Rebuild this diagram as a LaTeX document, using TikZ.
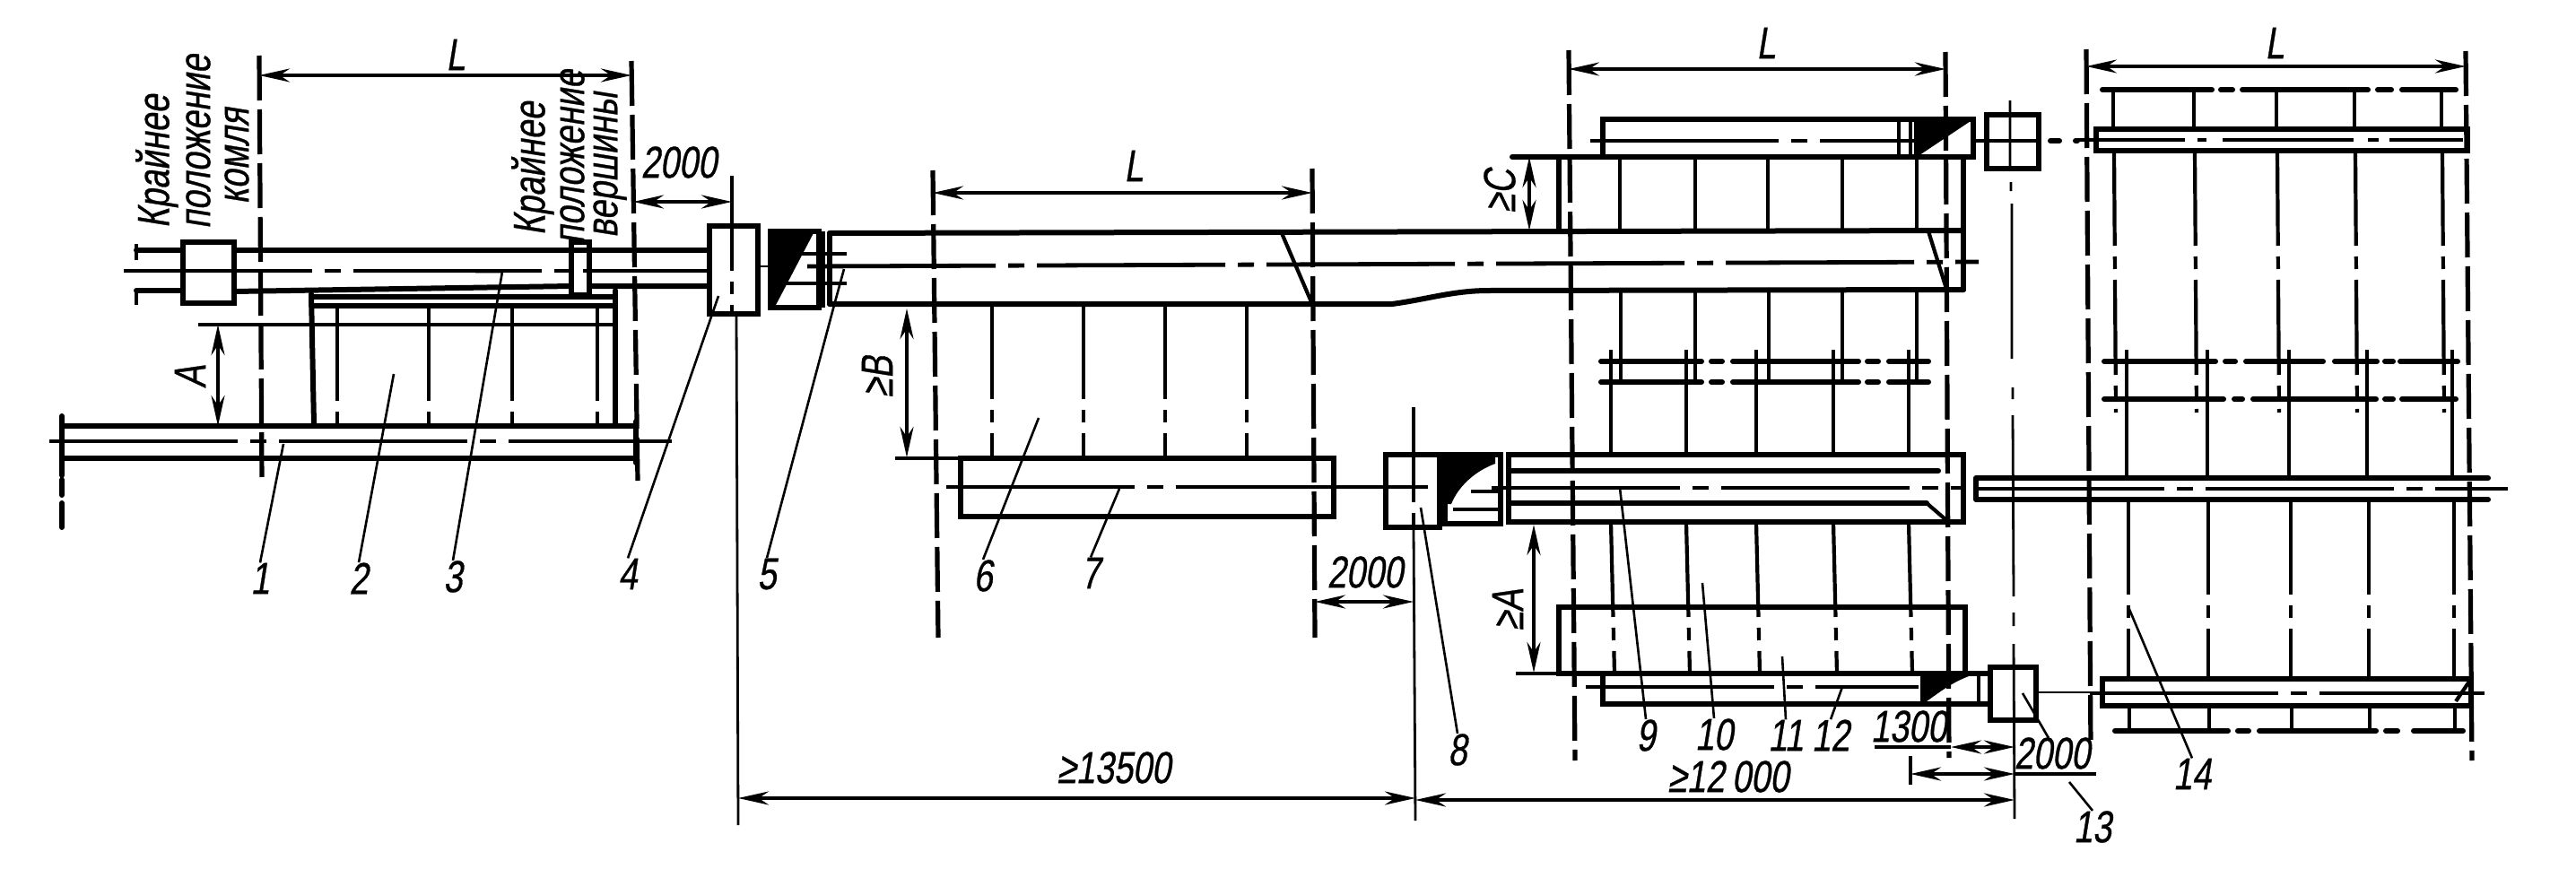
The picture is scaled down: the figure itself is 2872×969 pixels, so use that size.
\documentclass[tikz,border=0pt]{standalone}
\usepackage{fontspec}
\usetikzlibrary{arrows.meta}
\newfontfamily\dfont[FakeStretch=0.76,FakeSlant=0.16,FakeBold=0.6]{Liberation Sans}
\tikzset{
 x=.5pt,y=-.5pt,
 thick line/.style={line width=3pt,line cap=round},
 mid line/.style={line width=2.1pt},
 thin line/.style={line width=1.4pt},
 ext line/.style={line width=2.6pt,dash pattern=on 25pt off 5pt},
 tie line/.style={line width=2.1pt,dash pattern=on 53pt off 6pt on 7pt off 6pt},
 axis line/.style={line width=2.4pt,dash pattern=on 105pt off 7pt on 9pt off 7pt},
 dim line/.style={line width=1.9pt,{Stealth[length=17pt,width=7.5pt]}-{Stealth[length=17pt,width=7.5pt]}},
 leader/.style={line width=1.3pt},
 lab/.style={inner sep=0pt,font=\dfont\fontsize{25}{25}\selectfont},
 vlab/.style={lab,rotate=90},
}
\begin{document}
\begin{tikzpicture}
\useasboundingbox (0,0) rectangle (2872,969);
\fill[white] (0,0) rectangle (2872,969);

% ---------- left tower crane track
\draw[ext line] (289,62) -- (292,536);
\draw[ext line] (704,68) -- (711,536);
\draw[dim line] (289,84) -- (704,84);
\node[lab] (tL1) at (508,61) {L};
\draw[mid line] (152,272) -- (152,290) (152,322) -- (152,340);
\draw[thick line] (152,279) -- (204,279) (152,324) -- (204,324);
\draw[thick line] (261,279) -- (789,279);
\draw[thick line] (261,325) -- (637,319) (657,319) -- (789,319);
\draw[axis line] (138,302) -- (791,302);
\draw[thick line] (204,270) rectangle (261,338);
\draw[thick line] (637,270) rectangle (657,329);
\draw[thick line] (791,252) rectangle (845,350);
\draw[tie line] (816,196) -- (816,350);
\draw[thin line] (816,196) -- (816,252);
\draw[thin line] (821,350) -- (823,920);
\draw[thick line] (347,331) -- (686,331);
\draw[thick line] (347,341) -- (684,341);
\draw[mid line] (221,362) -- (686,362);
\draw[thick line] (347,328) -- (350,473);
\draw[thick line] (686,324) -- (686,473);
\foreach \xa in {376,478,571,666}{\draw[tie line] (\xa,341) -- (\xa,473);}
\draw[thick line] (69,475) -- (709,475) (69,511) -- (709,511);
\draw[axis line] (55,492) -- (703,492);
\draw[mid line] (703,492) -- (749,492);
\draw[thick line,dash pattern=on 33pt off 2.5pt on 8.5pt off 4.5pt on 13.5pt off 40pt] (69,464) -- (69,589);
\draw[thick line] (709,470) -- (709,516);
\draw[dim line] (243,362) -- (243,475);
\node[vlab] (tA1) at (212,420) {A};
\node[vlab] (k1) at (175,180) {Крайнее};
\node[vlab] (k2) at (221,158) {положение};
\node[vlab] (k3) at (264,174) {комля};
\node[vlab] (k4) at (594,188) {Крайнее};
\node[vlab] (k5) at (638,175) {положение};
\node[vlab] (k6) at (680,184) {вершины};
\node[lab] (t2000a) at (757,181) {2000};
\draw[dim line] (706,225) -- (816,225);

% ---------- labels
\node[lab] (n1) at (290,645) {1};
\node[lab] (n2) at (400,645) {2};
\node[lab] (n3) at (505,643) {3};
\node[lab] (n4) at (700,640) {4};
\node[lab] (n5) at (855,640) {5};
\node[lab] (n6) at (1096,642) {6};
\node[lab] (n7) at (1216,639) {7};
\node[lab] (n8) at (1625,836) {8};
\node[lab] (n9) at (1835,820) {9};
\node[lab] (n10) at (1911,819) {10};
\node[lab] (n11) at (1991,820) {11};
\node[lab] (n12) at (2041,820) {12};
\node[lab] (n13) at (2333,922) {13};
\node[lab] (n14) at (2444,863) {14};
\draw[leader] (316,495) -- (n1.north);
\draw[leader] (439,417) -- (n2.north);
\draw[leader] (530,303) -- (560,303) -- (n3.north);
\draw[leader] (801,330) -- (n4.north);
\draw[leader] (941,300) -- (929,344) -- (n5.north);
\draw[leader] (1158,466) -- (n6.north);
\draw[leader] (1248,545) -- (n7.north);
\draw[leader] (1584,566) -- (n8.north);
\draw[leader] (1806,544) -- (n9.north);
\draw[leader] (1898,650) -- (n10.north);
\draw[leader] (1987,732) -- (n11.north);
\draw[leader] (2054,766) -- (n12.north);
\draw[leader] (2255,773) -- (2284,823);
\draw[leader] (2307,872) -- (n13.north);
\draw[leader] (2373,677) -- (n14.north);

% ---------- wedge 1 and main conveyor
\draw[thick line] (859,258) rectangle (913,343);
\fill[black] (859,258) -- (908,258) -- (864,342) -- (859,342) -- cycle;
\draw[mid line] (882,283) -- (944,283) (872,316) -- (944,316);
\draw[mid line] (918,258) -- (918,343);
\draw[thin line] (845,297) -- (859,297);
\draw[thick line] (925,260) -- (2189,257);
\draw[thick line] (925,260) -- (925,339);
\draw[thick line] (925,339) -- (1552,339) .. controls (1590,334) and (1620,324) .. (1660,324) -- (2189,323);
\draw[thick line] (2189,177) -- (2189,323);
\draw[axis line] (900,297) -- (2206,292);
\draw[mid line] (1429,260) -- (1463,339);
\draw[mid line] (2150,258) -- (2170,322);

% ---------- section L 2
\draw[ext line] (1040,190) -- (1046,711);
\draw[ext line] (1463,188) -- (1466,711);
\draw[dim line] (1040,215) -- (1463,215);
\node[lab] (tL2) at (1264,185) {L};
\foreach \xa in {1106,1208,1299,1390}{\draw[tie line] (\xa,339) -- (\xa,511);}
\draw[dim line] (1011,344) -- (1011,510);
\node[vlab] (tB) at (978,420) {≥B};
\draw[mid line] (998,511) -- (1071,511);
\draw[thick line] (1071,511) rectangle (1487,576);
\draw[axis line] (1055,543) -- (1487,543);
\draw[mid line] (1487,543) -- (1545,543);

% ---------- box 8, wedge 2
\draw[thick line] (1545,507) rectangle (1605,588);
\draw[tie line] (1576,454) -- (1576,590);
\draw[thin line] (1576,590) -- (1578,915);
\draw[mid line] (1545,543) -- (1592,543);
\draw[dim line] (1466,671) -- (1576,671);
\node[lab] (t2000b) at (1522,638) {2000};
\draw[thick line] (1611,507) rectangle (1673,584);
\fill[black] (1611,507) -- (1667,507) -- (1667,517) .. controls (1645,525) and (1626,542) .. (1618,562) -- (1611,562) -- cycle;
\draw[mid line] (1640,548) -- (1673,548) (1620,568) -- (1673,568);
\draw[dim line] (823,890) -- (1578,890);
\node[lab] (t13500) at (1242,856) {≥13500};
\draw[dim line] (1578,892) -- (2246,892);
\node[lab] (t12000) at (1927,866) {≥12\,000};
\draw[thin line] (2241,112) -- (2241,190) (2242,203) -- (2242,213) (2243,227) -- (2243,400) (2244,432) -- (2244,445) (2244,463) -- (2245,665) (2245,683) -- (2245,698) (2245,718) -- (2246,913);

% ---------- block of upper right conveyors
\draw[ext line] (1749,56) -- (1756,848);
\draw[ext line] (2169,58) -- (2173,845);
\draw[dim line] (1749,77) -- (2169,77);
\node[lab] (tL3) at (1969,48) {L};
\draw[thick line] (1787,133) rectangle (2200,175);
\draw[thick line] (1686,175) -- (1787,175);
\draw[axis line] (1773,157) -- (2140,157);
\draw[mid line] (2117,133) -- (2117,175) (2130,133) -- (2130,175);
\fill[black] (2134,135) -- (2197,135) -- (2140,173) -- (2134,173) -- cycle;
\draw[mid line] (2200,157) -- (2215,157);
\draw[thick line] (2215,128) rectangle (2273,188);
\draw[mid line] (2215,157) -- (2273,157);
\draw[thick line,dash pattern=on 5pt off 9pt on 5pt off 40pt] (2286,157) -- (2316,157);
\draw[thick line] (1738,175) -- (1738,257);
\foreach \xa in {1806,1890,1971,2054,2137}{\draw[tie line] (\xa,175) -- (\xa,257);}
\foreach \xa in {1807,1890,1972,2054,2137}{\draw[tie line] (\xa,323) -- (\xa,440);}
\foreach \xa in {1796,1880,1958,2044,2128}{
  \draw[mid line] (\xa,390) -- (\xa,441);
  \draw[tie line] (\xa,441) -- (\xa,507);
  \draw[tie line] (\xa,582) -- (\xa+4,751);
}
\draw[dim line] (1705,175) -- (1705,257);
\node[vlab] (tC) at (1672,213) {≥C};
\draw[thick line,dash pattern=on 56pt off 5.5pt on 6pt off 6pt on 70pt off 5pt on 6pt off 6pt on 40pt off 50pt] (1785,403) -- (2150,403);
\draw[thick line,dash pattern=on 56pt off 5.5pt on 6pt off 6pt on 70pt off 5pt on 6pt off 6pt on 40pt off 50pt] (1785,426) -- (2150,426);

% ---------- conveyor 9
\draw[thick line] (1682,507) rectangle (2189,582);
\draw[thick line] (1682,525) -- (2161,525);
\draw[thick line] (1682,561) -- (2148,561);
\draw[mid line] (2148,561) -- (2170,580);
\draw[axis line] (1663,544) -- (2190,544);
\draw[dim line] (1710,585) -- (1710,750);
\node[vlab] (tA2) at (1681,680) {≥A};
\draw[thick line] (1738,677) rectangle (2191,751);
\draw[mid line] (1690,751) -- (1738,751);

% ---------- conveyor 12
\draw[thick line] (1787,751) rectangle (2219,785);
\draw[axis line] (1768,766) -- (2139,766);
\fill[black] (2141,751) -- (2204,751) .. controls (2180,758) and (2165,770) .. (2148,782) -- (2141,782) -- cycle;
\draw[mid line] (2206,751) -- (2206,785);
\draw[thick line] (2219,744) rectangle (2270,803);
\draw[thin line] (2270,772) -- (2342,772);
\draw[dim line] (2175,833) -- (2246,833);
\draw[mid line] (2090,833) -- (2175,833);
\node[lab] (t1300) at (2128,810) {1300};
\draw[mid line] (2130,843) -- (2130,875);
\draw[dim line] (2130,863) -- (2246,863);
\draw[mid line] (2246,863) -- (2337,863);
\node[lab] (t2000c) at (2288,840) {2000};

% ---------- right block
\draw[ext line] (2326,55) -- (2331,835);
\draw[ext line] (2749,57) -- (2756,848);
\draw[dim line] (2326,74) -- (2749,74);
\node[lab] (tL4) at (2536,48) {L};
\draw[thick line,dash pattern=on 61pt off 5pt on 6.5pt off 5.5pt on 70pt off 5.5pt on 7.5pt off 6pt on 30pt off 40pt] (2344,100) -- (2738,100);
\draw[thick line] (2337,144) rectangle (2751,168);
\draw[axis line,dash pattern=on 60pt off 7pt on 5pt off 9pt on 73pt off 8pt on 6pt off 6pt on 41pt off 20pt] (2316,156) -- (2768,156);
\foreach \xa in {2356,2446,2538,2625,2722}{
  \draw[mid line] (\xa,100) -- (\xa,144);
  \draw[tie line] (\xa+1,168) -- (\xa+3,460);
}
\foreach \xa in {2371,2461,2552,2639,2734}{
  \draw[mid line] (\xa,390) -- (\xa,460);
  \draw[tie line] (\xa,460) -- (\xa,533);
}
\draw[thick line,dash pattern=on 62pt off 5.5pt on 5.5pt off 6pt on 43pt off 6.5pt on 23.5pt off 4.5pt on 4.5pt off 4pt on 32pt off 40pt] (2346,403) -- (2740,403);
\draw[thick line,dash pattern=on 66.5pt off 6pt on 4.5pt off 6pt on 68.5pt off 5pt on 4.5pt off 5pt on 30pt off 40pt] (2346,445) -- (2740,445);
\draw[thick line] (2203,533) -- (2774,533) (2203,557) -- (2774,557) (2203,533) -- (2203,557);
\draw[axis line] (2203,545) -- (2796,545);
\foreach \xa in {2373,2462,2554,2641,2736}{
  \draw[tie line] (\xa,557) -- (\xa,757);
  \draw[mid line] (\xa+1,787) -- (\xa+1,815);
}
\draw[thick line] (2344,757) rectangle (2755,787);
\draw[axis line] (2330,773) -- (2770,773);
\draw[thick line,dash pattern=on 63pt off 5.5pt on 6pt off 6pt on 65pt off 5.5pt on 6.5pt off 9pt on 28pt off 40pt] (2358,815) -- (2746,815);
\draw[mid line] (2738,782) -- (2755,757);
\end{tikzpicture}
\end{document}
